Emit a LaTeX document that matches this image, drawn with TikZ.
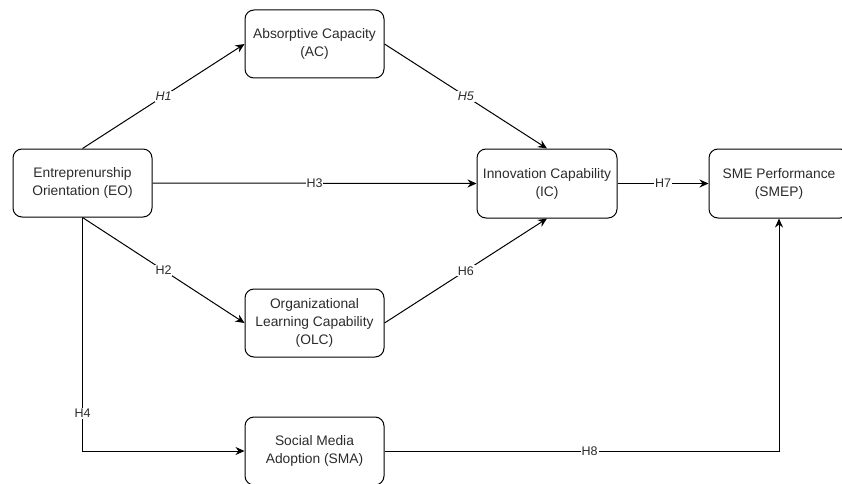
\documentclass[tikz,border=0pt]{standalone}
\usepackage{fontspec}
\setmainfont{Liberation Sans}
\usetikzlibrary{arrows.meta}
\definecolor{inkgrey}{HTML}{2B2B2B}
\tikzset{
    constructbox/.style={draw=black, line width=1pt, rounded corners=9pt,
        minimum width=139pt, minimum height=68pt, align=center, text=inkgrey,
        font=\fontsize{13.8}{18}\selectfont, inner sep=2pt},
    hyparrow/.style={draw=black, line width=1pt, -{Stealth[length=9pt,width=8pt]}},
    hyplabel/.style={fill=white, inner sep=1pt, text=inkgrey,
        font=\fontsize{12.5}{14}\selectfont}
}
\begin{document}
\begin{tikzpicture}[x=1pt,y=1pt]
        % the picture frame
        \useasboundingbox (0,0) rectangle (842,483);
        % the independent construct
        \node[constructbox] (eo) at (82.5,300) {Entreprenurship\\Orientation (EO)};
        % the mediating constructs
        \node[constructbox] (ac) at (314.5,439) {Absorptive Capacity\\(AC)};
        \node[constructbox] (olc) at (314.5,160) {Organizational\\Learning Capability\\(OLC)};
        \node[constructbox] (sma) at (314.5,32) {Social Media\\Adoption (SMA)};
        \node[constructbox, minimum width=140pt, minimum height=69pt] (ic) at (547,299.5) {Innovation Capability\\(IC)};
        % the outcome construct
        \node[constructbox, minimum width=140pt, minimum height=69pt] (smep) at (779,299.5) {SME Performance\\(SMEP)};

        % paths out of EO
        \draw[hyparrow] (eo.north) -- node[hyplabel] {\itshape H1} (ac.west);
        \draw[hyparrow] (eo.east) -- node[hyplabel] {H3} (ic.west);
        \draw[hyparrow] (eo.south) -- node[hyplabel] {H2} (olc.west);
        \draw[hyparrow] (eo.south) |- node[hyplabel, pos=0.42] {H4} (sma.west);

        % paths into IC
        \draw[hyparrow] (ac.east) -- node[hyplabel] {\itshape H5} (ic.north);
        \draw[hyparrow] (olc.east) -- node[hyplabel] {H6} (ic.south);

        % paths into SMEP
        \draw[hyparrow] (ic.east) -- node[hyplabel] {H7} (smep.west);
        \draw[hyparrow] (sma.east) -| node[hyplabel, pos=0.26] {H8} (smep.south);
    \end{tikzpicture}
\end{document}
